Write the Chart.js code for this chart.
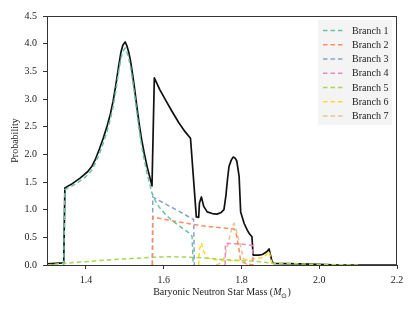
<!DOCTYPE html>
<html>
<head>
<meta charset="utf-8">
<script src="https://cdn.jsdelivr.net/npm/chart.js@4.4.0/dist/chart.umd.min.js"></script>
<style>
  html, body { margin: 0; padding: 0; background: #fff; }
  #wrap { width: 415px; height: 312px; }
</style>
</head>
<body>
<div id="wrap"><canvas id="chart" width="415" height="312"></canvas></div>
<script>
// --- data: [mass (M_sun), probability] ---
const total = [
  [1.300,0.02],[1.343,0.04],[1.346,1.39],[1.355,1.43],[1.365,1.47],[1.375,1.52],[1.385,1.57],
  [1.395,1.63],[1.405,1.69],[1.415,1.78],[1.425,1.92],[1.435,2.10],[1.445,2.30],[1.455,2.52],
  [1.463,2.73],[1.470,2.96],[1.477,3.25],[1.484,3.58],[1.490,3.84],[1.495,3.97],[1.501,4.03],
  [1.505,3.97],[1.510,3.85],[1.515,3.68],[1.520,3.45],[1.525,3.20],[1.530,2.92],[1.536,2.60],
  [1.543,2.28],[1.550,2.02],[1.558,1.76],[1.565,1.57],[1.570,1.43],[1.576,3.38],[1.590,3.17],
  [1.605,2.98],[1.622,2.77],[1.639,2.57],[1.655,2.41],[1.669,2.29],[1.684,0.87],[1.690,0.86],
  [1.692,1.12],[1.697,1.23],[1.703,1.06],[1.712,0.96],[1.725,0.93],[1.737,0.92],[1.748,0.95],
  [1.755,1.00],[1.760,1.25],[1.764,1.54],[1.768,1.78],[1.774,1.90],[1.779,1.95],[1.784,1.93],
  [1.788,1.88],[1.794,1.60],[1.798,0.96],[1.807,0.75],[1.815,0.63],[1.820,0.57],[1.827,0.51],
  [1.830,0.18],[1.845,0.18],[1.854,0.19],[1.865,0.24],[1.871,0.29],[1.878,0.08],[1.882,0.03],
  [1.950,0.02],[2.000,0.01],[2.050,0.00],[2.200,0.00]
];
const branch1 = [
  [1.343,0.00],[1.346,1.36],[1.355,1.40],[1.365,1.43],[1.375,1.47],[1.385,1.52],[1.395,1.57],
  [1.405,1.63],[1.415,1.71],[1.425,1.85],[1.435,2.02],[1.445,2.21],[1.455,2.43],[1.463,2.64],
  [1.470,2.86],[1.477,3.15],[1.484,3.48],[1.490,3.73],[1.495,3.86],[1.501,3.92],[1.505,3.86],
  [1.510,3.74],[1.515,3.57],[1.520,3.34],[1.525,3.09],[1.530,2.81],[1.536,2.49],[1.543,2.16],
  [1.550,1.90],[1.558,1.63],[1.565,1.44],[1.570,1.30],[1.578,1.17],[1.588,1.05],[1.605,0.91],
  [1.622,0.80],[1.645,0.68],[1.665,0.58],[1.673,0.52],[1.676,0.00]
];
const branch2 = [
  [1.571,0.00],[1.572,0.87],[1.620,0.80],[1.680,0.73],[1.707,0.70],[1.750,0.67],[1.781,0.65],
  [1.787,0.55],[1.794,0.27],[1.798,0.07],[1.810,0.03],[1.830,0.00]
];
const branch3 = [[1.571,0.00],[1.572,1.23],[1.600,1.12],[1.640,0.97],[1.677,0.82],[1.679,0.00]];
const branch4 = [[1.758,0.00],[1.759,0.39],[1.800,0.38],[1.829,0.35],[1.830,0.00]];
const branch5 = [
  [1.300,0.00],[1.343,0.03],[1.400,0.06],[1.450,0.09],[1.500,0.11],[1.570,0.14],[1.620,0.15],
  [1.670,0.14],[1.700,0.13],[1.750,0.10],[1.800,0.08],[1.850,0.06],[1.880,0.03],[1.950,0.02],
  [2.000,0.01],[2.050,0.005],[2.100,0.00]
];
const branch6 = [
  [1.690,0.00],[1.692,0.28],[1.697,0.40],[1.703,0.24],[1.712,0.13],[1.725,0.10],[1.750,0.08],
  [1.800,0.08],[1.830,0.11],[1.854,0.13],[1.865,0.19],[1.871,0.25],[1.876,0.10],[1.880,0.00]
];
const branch7 = [
  [1.735,0.00],[1.748,0.04],[1.755,0.12],[1.760,0.22],[1.766,0.40],[1.772,0.58],[1.778,0.72],
  [1.781,0.75],[1.787,0.62],[1.793,0.45],[1.798,0.33],[1.805,0.12],[1.810,0.03],[1.815,0.00]
];
const branchLabels = ['Branch 1','Branch 2','Branch 3','Branch 4','Branch 5','Branch 6','Branch 7'];
const xTicks = [1.4, 1.6, 1.8, 2.0, 2.2];
const yTicks = [0, 0.5, 1.0, 1.5, 2.0, 2.5, 3.0, 3.5, 4.0, 4.5];

// Set2 colours
const branchColors = ['#66c2a5','#fc8d62','#8da0cb','#e78ac3','#a6d854','#ffd92f','#e5c494'];
const DASH = [4.5, 3];
const FONT = "'Liberation Serif', 'Times New Roman', serif";

const toXY = arr => arr.map(p => ({ x: p[0], y: p[1] }));
const branches = [branch1, branch2, branch3, branch4, branch5, branch6, branch7];

const datasets = branches.map((b, i) => ({
  label: branchLabels[i],
  data: toXY(b),
  borderColor: branchColors[i],
  borderWidth: 1.5,
  borderDash: DASH,
  pointRadius: 0,
  tension: 0
}));
// total goes last -> drawn underneath the branches
datasets.push({
  label: 'Total',
  data: toXY(total),
  borderColor: '#111',
  borderWidth: 1.7,
  borderJoinStyle: 'round',
  pointRadius: 0,
  tension: 0
});

// frame, legend and axis titles
const decor = {
  id: 'decor',
  afterDraw(chart) {
    const { ctx, chartArea: a } = chart;
    ctx.save();
    ctx.strokeStyle = '#333';
    ctx.lineWidth = 1;
    ctx.strokeRect(Math.round(a.left) + 0.5, Math.round(a.top) + 0.5,
      Math.round(a.right - a.left) - 1, Math.round(a.bottom - a.top));

    // legend box
    const bw = 74, bh = 105;
    const bx = a.right - bw - 5, by = a.top + 4;
    ctx.fillStyle = '#f4f4f4';
    ctx.fillRect(bx, by, bw, bh);
    ctx.font = '10px ' + FONT;
    ctx.textBaseline = 'middle';
    ctx.textAlign = 'left';
    branchLabels.forEach((lab, i) => {
      const cy = by + 10.5 + i * 14.25;
      ctx.strokeStyle = branchColors[i];
      ctx.lineWidth = 1.5;
      ctx.setLineDash(DASH);
      ctx.beginPath();
      ctx.moveTo(bx + 5, cy);
      ctx.lineTo(bx + 25, cy);
      ctx.stroke();
      ctx.setLineDash([]);
      ctx.fillStyle = '#222';
      ctx.fillText(lab, bx + 34, cy + 0.5);
    });

    // x title with italic M and subscript sun symbol
    const parts = [
      { t: 'Baryonic Neutron Star Mass (', f: '10px ' + FONT, dy: 0 },
      { t: 'M', f: 'italic 10px ' + FONT, dy: 0 },
      { t: '\u2299', f: '7px ' + FONT, dy: 2.5 },
      { t: ')', f: '10px ' + FONT, dy: 0 }
    ];
    let w = 0;
    parts.forEach(p => { ctx.font = p.f; w += ctx.measureText(p.t).width; });
    let x = (a.left + a.right) / 2 - w / 2;
    const base = 295;
    ctx.textBaseline = 'alphabetic';
    ctx.fillStyle = '#222';
    parts.forEach(p => {
      ctx.font = p.f;
      ctx.fillText(p.t, x, base + p.dy);
      x += ctx.measureText(p.t).width;
    });

    // y title
    ctx.translate(15, (a.top + a.bottom) / 2);
    ctx.rotate(-Math.PI / 2);
    ctx.font = '10px ' + FONT;
    ctx.textAlign = 'center';
    ctx.textBaseline = 'middle';
    ctx.fillText('Probability', 0, 0);
    ctx.restore();
  }
};

new Chart(document.getElementById('chart'), {
  type: 'line',
  data: { datasets },
  plugins: [decor],
  options: {
    responsive: false,
    animation: false,
    devicePixelRatio: 1,
    layout: { padding: { top: 16, right: 18, left: 0, bottom: 0 } },
    plugins: { legend: { display: false }, tooltip: { enabled: false } },
    scales: {
      x: {
        type: 'linear',
        min: 1.3,
        max: 2.2,
        afterBuildTicks: s => { s.ticks = xTicks.map(v => ({ value: v })); },
        afterFit: s => { s.height = 47; },
        grid: { drawOnChartArea: false, drawTicks: true, tickLength: 4, color: '#333' },
        border: { display: false },
        ticks: {
          padding: 5,
          color: '#222',
          font: { family: FONT, size: 10 },
          maxRotation: 0,
          callback: v => Number(v).toFixed(1)
        }
      },
      y: {
        min: 0,
        max: 4.5,
        afterBuildTicks: s => { s.ticks = yTicks.map(v => ({ value: v })); },
        afterFit: s => { s.width = 47; },
        grid: { drawOnChartArea: false, drawTicks: true, tickLength: 4, color: '#333' },
        border: { display: false },
        ticks: {
          padding: 6,
          color: '#222',
          font: { family: FONT, size: 10 },
          callback: v => Number(v).toFixed(1)
        }
      }
    }
  }
});
</script>
</body>
</html>
